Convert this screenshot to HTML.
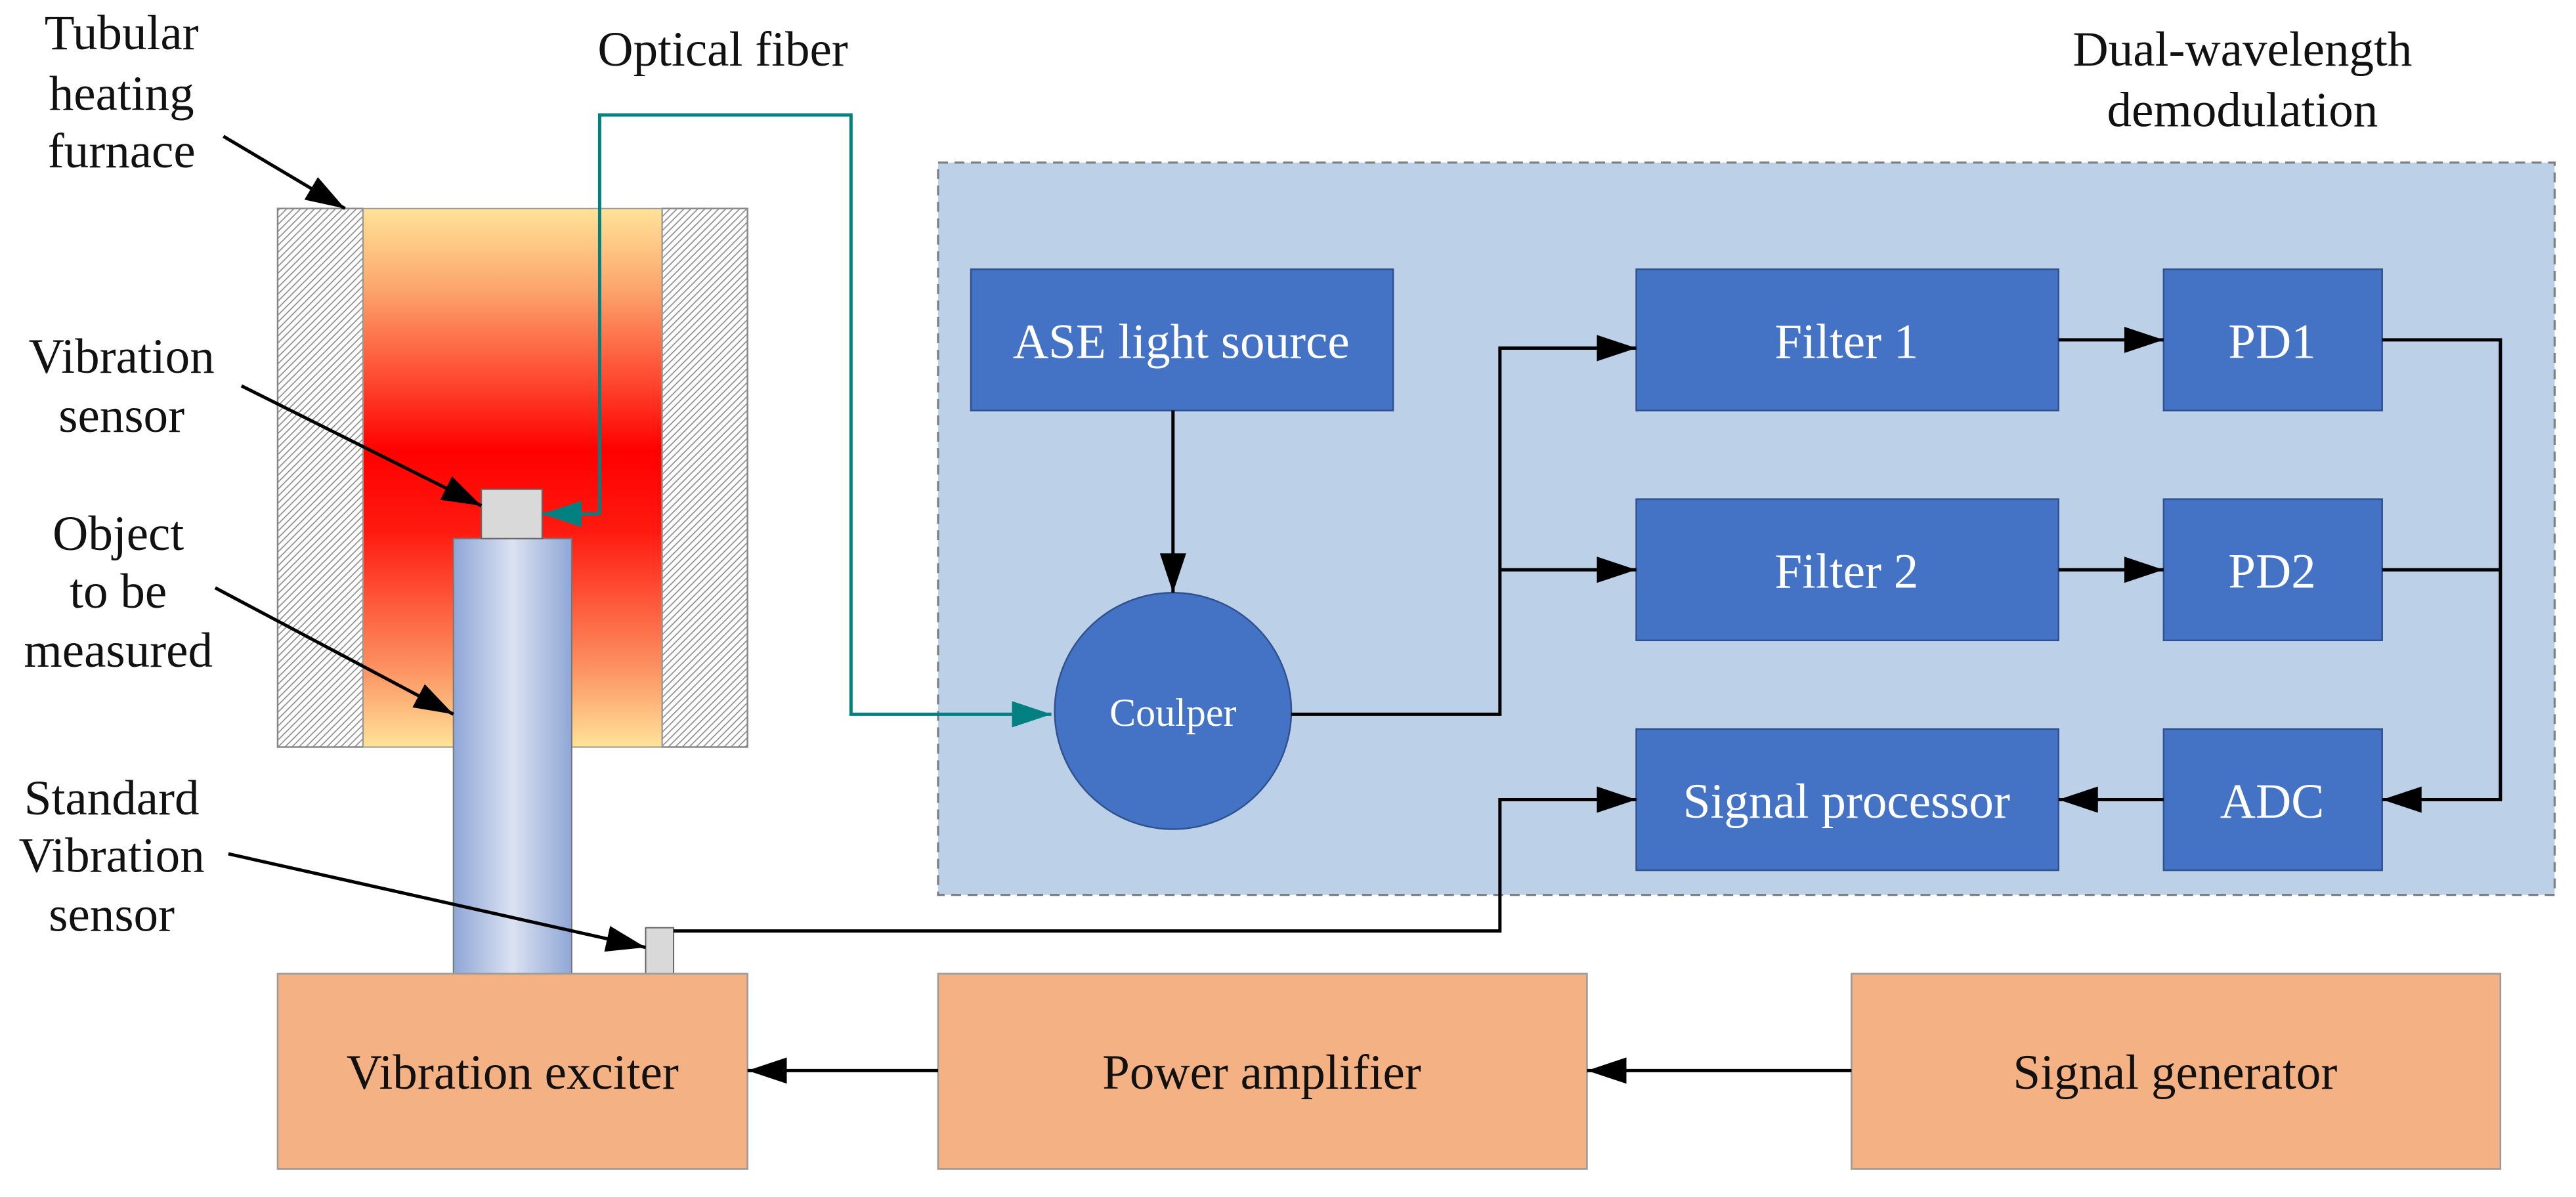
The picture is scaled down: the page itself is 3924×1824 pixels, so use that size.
<!DOCTYPE html>
<html><head><meta charset="utf-8"><style>
html,body{margin:0;padding:0;background:#fff;}
svg{display:block;}
text{font-family:"Liberation Serif",serif;fill:#111;}
.bt{fill:#fff;font-size:30px;text-anchor:middle;}
.lb{font-size:30px;text-anchor:middle;}
</style></head><body>
<svg width="3924" height="1824" viewBox="0 0 1568 729" preserveAspectRatio="none" xmlns="http://www.w3.org/2000/svg">
<defs>
<pattern id="hatch" width="3" height="3" patternUnits="userSpaceOnUse" patternTransform="rotate(45)">
<rect width="3" height="3" fill="#fff"/><line x1="0" y1="0" x2="0" y2="3" stroke="#8a8a8a" stroke-width="1.3"/>
</pattern>
<linearGradient id="heat" x1="0" y1="0" x2="0" y2="1">
<stop offset="0" stop-color="#ffe398"/><stop offset="0.15" stop-color="#fca56c"/>
<stop offset="0.45" stop-color="#ff0000"/><stop offset="0.6" stop-color="#ff1a10"/>
<stop offset="0.85" stop-color="#fc9060"/><stop offset="1" stop-color="#ffe398"/>
</linearGradient>
<linearGradient id="cyl" x1="0" y1="0" x2="1" y2="0">
<stop offset="0" stop-color="#8fa6d6"/><stop offset="0.5" stop-color="#dbe2f2"/><stop offset="1" stop-color="#8fa6d6"/>
</linearGradient>
<marker id="ab2" markerWidth="24" markerHeight="16" refX="24" refY="8" orient="auto" markerUnits="userSpaceOnUse">
<path d="M0,0 L24,8 L0,16z" fill="#000"/></marker>
<marker id="at" markerWidth="24" markerHeight="16" refX="24" refY="8" orient="auto" markerUnits="userSpaceOnUse">
<path d="M0,0 L24,8 L0,16z" fill="#008080"/></marker>
</defs>

<rect x="571" y="99" width="984" height="446" fill="#bcd0e8" stroke="#7f7f7f" stroke-width="1.3" stroke-dasharray="6,4"/>

<rect x="169" y="127" width="52" height="328" fill="url(#hatch)" stroke="#888" stroke-width="1"/>
<rect x="403" y="127" width="52" height="328" fill="url(#hatch)" stroke="#888" stroke-width="1"/>
<rect x="221" y="127" width="182" height="328" fill="url(#heat)" stroke="#999" stroke-width="0.8"/>
<rect x="276" y="328" width="72" height="265" fill="url(#cyl)" stroke="#777" stroke-width="0.8"/>
<rect x="293" y="298" width="37" height="30" fill="#d9d9d9" stroke="#666" stroke-width="0.8"/>
<rect x="393" y="565" width="17" height="28" fill="#d9d9d9" stroke="#666" stroke-width="0.8"/>

<rect x="169" y="593" width="286" height="119" fill="#f4b183" stroke="#999" stroke-width="1"/>
<rect x="571" y="593" width="395" height="119" fill="#f4b183" stroke="#999" stroke-width="1"/>
<rect x="1127" y="593" width="395" height="119" fill="#f4b183" stroke="#999" stroke-width="1"/>
<text class="lb" x="312" y="663">Vibration exciter</text>
<text class="lb" x="768" y="663">Power amplifier</text>
<text class="lb" x="1324" y="663">Signal generator</text>

<g fill="#4472c4" stroke="#2f528f" stroke-width="1">
<rect x="591" y="164" width="257" height="86"/>
<rect x="996" y="164" width="257" height="86"/>
<rect x="1317" y="164" width="133" height="86"/>
<rect x="996" y="304" width="257" height="86"/>
<rect x="1317" y="304" width="133" height="86"/>
<rect x="996" y="444" width="257" height="86"/>
<rect x="1317" y="444" width="133" height="86"/>
<circle cx="714" cy="433" r="72"/>
</g>
<text class="bt" x="719" y="218">ASE light source</text>
<text class="bt" x="1124" y="218">Filter 1</text>
<text class="bt" x="1383" y="218">PD1</text>
<text class="bt" x="1124" y="358">Filter 2</text>
<text class="bt" x="1383" y="358">PD2</text>
<text class="bt" x="1124" y="498">Signal processor</text>
<text class="bt" x="1383" y="498">ADC</text>
<text class="bt" x="714" y="442" style="font-size:24px">Coulper</text>

<g fill="none" stroke="#000" stroke-width="2">
<path d="M714,250 V361" marker-end="url(#ab2)"/>
<path d="M786,435 H913 V212 H996" marker-end="url(#ab2)"/>
<path d="M913,347 H996" marker-end="url(#ab2)"/>
<path d="M1253,207 H1317" marker-end="url(#ab2)"/>
<path d="M1253,347 H1317" marker-end="url(#ab2)"/>
<path d="M1450,207 H1522 V487 H1450" marker-end="url(#ab2)"/>
<path d="M1450,347 H1522"/>
<path d="M1317,487 H1253" marker-end="url(#ab2)"/>
<path d="M410,567 H913 V487 H996" marker-end="url(#ab2)"/>
<path d="M571,652 H455" marker-end="url(#ab2)"/>
<path d="M1127,652 H966" marker-end="url(#ab2)"/>
<path d="M136,83 L210,127" marker-end="url(#ab2)"/>
<path d="M147,235 L293,308" marker-end="url(#ab2)"/>
<path d="M131,358 L276,435" marker-end="url(#ab2)"/>
<path d="M139,520 L393,577" marker-end="url(#ab2)"/>
</g>
<g fill="none" stroke="#008080" stroke-width="2">
<path d="M365,313 V70 H518 V435 H640" marker-end="url(#at)"/>
<path d="M365,313 H330" marker-end="url(#at)"/>
</g>

<text class="lb" x="74" y="30">Tubular</text>
<text class="lb" x="74" y="67">heating</text>
<text class="lb" x="74" y="102">furnace</text>
<text class="lb" x="440" y="40">Optical fiber</text>
<text class="lb" x="1365" y="40">Dual-wavelength</text>
<text class="lb" x="1365" y="77">demodulation</text>
<text class="lb" x="74" y="227">Vibration</text>
<text class="lb" x="74" y="263">sensor</text>
<text class="lb" x="72" y="335">Object</text>
<text class="lb" x="72" y="370">to be</text>
<text class="lb" x="72" y="406">measured</text>
<text class="lb" x="68" y="496">Standard</text>
<text class="lb" x="68" y="531">Vibration</text>
<text class="lb" x="68" y="567">sensor</text>
</svg>
</body></html>
